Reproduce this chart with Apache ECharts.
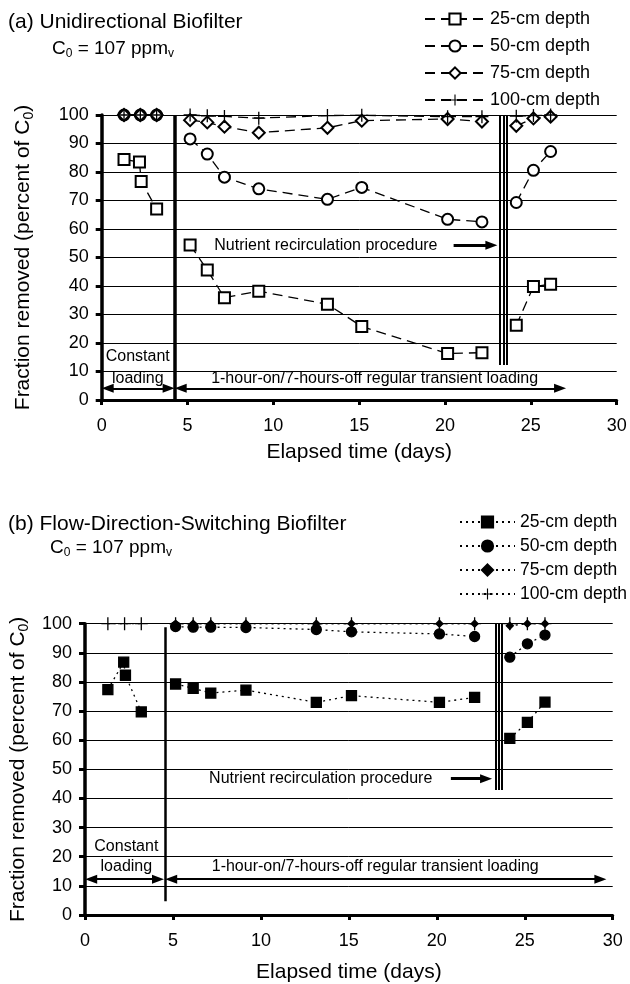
<!DOCTYPE html>
<html>
<head>
<meta charset="utf-8">
<script src="https://cdn.jsdelivr.net/npm/echarts@6/dist/echarts.min.js"></script>
<style>
  html, body { margin: 0; padding: 0; background: #fff; }
  #chart { width: 630px; height: 984px; }
</style>
</head>
<body>
<div id="chart"></div>
<script>
// sampling days (elapsed time)
const earlyDays = [1.3, 2.25, 3.2];
const early25Days = [1.3, 2.2, 2.3, 3.2];
const runDays = [5.15, 6.15, 7.15, 9.15, 13.15, 15.15, 20.15, 22.15];
const restartDays = [24.15, 25.15, 26.15];

const depthNames = ['25-cm depth', '50-cm depth', '75-cm depth', '100-cm depth'];
const yTicks = [0, 100, 10];   // min, max, step
const xTicks = [0, 30, 5];

// (a) unidirectional biofilter, fraction removed (%)
const uni25Early = [84.4, 83.5, 76.7, 67.0];
const uni25Run = [54.4, 45.6, 35.9, 38.2, 33.6, 25.8, 16.3, 16.6];
const uni25Restart = [26.2, 39.8, 40.6];
const uni50Early = [100, 100, 100];
const uni50Run = [91.6, 86.3, 78.2, 74.1, 70.4, 74.6, 63.4, 62.5];
const uni50Restart = [69.3, 80.6, 87.2];
const uni75Early = [100, 100, 100];
const uni75Run = [98.2, 97.4, 95.9, 93.8, 95.5, 98.0, 98.6, 97.7];
const uni75Restart = [96.2, 98.8, 99.4];
const uni100Early = [100, 100, 100];
const uni100Run = [100, 99.7, 99.5, 98.9, 99.8, 99.9, 99.4, 99.4];
const uni100Restart = [99.6, 99.8, 100];

// (b) flow-direction-switching biofilter, fraction removed (%)
const fds25Early = [77.4, 86.8, 82.3, 69.7];
const fds25Run = [79.3, 77.8, 76.2, 77.2, 73.0, 75.3, 73.0, 74.7];
const fds25Restart = [60.6, 66.1, 73.1];
const fds50Run = [99.0, 98.8, 98.8, 98.7, 98.0, 97.2, 96.5, 95.6];
const fds50Restart = [88.5, 93.1, 96.1];
const fds75Run = [100, 100, 100, 100, 100, 100, 100, 100];
const fds75Restart = [99.3, 100, 100];
const fds100Early = [100, 100, 100];
const fds100Run = [100, 100, 100, 100, 100, 100, 100, 100];
const fds100Restart = [100, 100, 100];

// annotation texts
const uniNotes = ['Nutrient recirculation procedure', 'Constant', 'loading',
  '1-hour-on/7-hours-off regular transient loading'];
const fdsNotes = uniNotes.slice();

const FONT = "'Liberation Sans', Arial, sans-serif";
const PLUS = 'path://M0,0.45 L1,0.45 L1,0.55 L0,0.55 Z M0.45,0 L0.55,0 L0.55,1 L0.45,1 Z';

// join segments, breaking the line between them
function track(parts) {
  const out = [];
  parts.forEach(function (p) {
    if (p[0].length === 0) return;
    if (out.length) out.push([p[0][0] - 0.5, '-']);
    p[0].forEach(function (d, i) { out.push([d, p[1][i]]); });
  });
  return out;
}

function depthSeries(idx, prefix, name, symbol, size, dash, data) {
  return {
    name: prefix + name,
    type: 'line',
    xAxisIndex: idx, yAxisIndex: idx,
    symbol: symbol, symbolSize: size,
    clip: false,
    connectNulls: false,
    lineStyle: { color: '#000', width: 1.3, type: dash },
    itemStyle: { color: '#000', borderColor: '#000', borderWidth: symbol === PLUS ? 0 : 1.3 },
    data: data
  };
}

function vbar(x, y0, y1, w) {
  return [{ coord: [x, y0], symbol: 'none', lineStyle: { width: w } }, { coord: [x, y1], symbol: 'none' }];
}
function arrow(x0, x1, y, w, both) {
  return [
    { coord: [x0, y], symbol: both ? 'triangle' : 'none', symbolSize: [9, 12], lineStyle: { width: w } },
    { coord: [x1, y], symbol: 'triangle', symbolSize: [9, 12] }
  ];
}

// separators and arrows
function guideSeries(idx, lines) {
  return {
    type: 'scatter', xAxisIndex: idx, yAxisIndex: idx,
    symbolSize: 0, silent: true, data: [],
    markLine: {
      silent: true, animation: false,
      label: { show: false },
      lineStyle: { color: '#000', type: 'solid', width: 2, opacity: 1 },
      itemStyle: { color: '#000' },
      data: lines
    }
  };
}

// text notes placed at data coordinates
function noteSeries(idx, texts, xs, ys) {
  return {
    type: 'custom', xAxisIndex: idx, yAxisIndex: idx, silent: true, z: 6,
    data: xs.map(function (x, i) { return [x, ys[i]]; }),
    renderItem: function (params, api) {
      const p = api.coord([api.value(0), api.value(1)]);
      return {
        type: 'text', x: p[0], y: p[1],
        style: {
          text: texts[params.dataIndex], fill: '#000', fontSize: 16, fontFamily: FONT,
          align: 'center', verticalAlign: 'middle'
        }
      };
    }
  };
}

function richSub(size) {
  return {
    n: { fontSize: size, fontWeight: 'normal', color: '#000', fontFamily: FONT, lineHeight: size + 4 },
    s: { fontSize: Math.round(size * 0.65), fontWeight: 'normal', color: '#000', fontFamily: FONT,
         lineHeight: Math.round(size * 0.75), verticalAlign: 'bottom' }
  };
}

function yAxis(idx, gap) {
  return {
    gridIndex: idx, type: 'value',
    min: yTicks[0], max: yTicks[1], interval: yTicks[2],
    name: '{n|Fraction removed (percent of C}{s|0}{n|)}',
    nameLocation: 'middle', nameGap: gap, nameRotate: 90,
    nameTextStyle: { rich: richSub(21) },
    axisLine: { show: true, lineStyle: { color: '#000', width: 3.5 } },
    axisTick: { show: true, length: 6, lineStyle: { color: '#000', width: 3 } },
    axisLabel: { color: '#000', fontSize: 18, fontFamily: FONT, margin: 13 },
    splitLine: { show: true, lineStyle: { color: '#000', width: 1 } }
  };
}
function xAxis(idx, gap) {
  return {
    gridIndex: idx, type: 'value',
    min: xTicks[0], max: xTicks[1], interval: xTicks[2],
    name: 'Elapsed time (days)',
    nameLocation: 'middle', nameGap: gap,
    nameTextStyle: { color: '#000', fontSize: 21, fontFamily: FONT },
    axisLine: { show: true, onZero: false, lineStyle: { color: '#000', width: 3 } },
    axisTick: { show: true, length: 5, lineStyle: { color: '#000', width: 3 } },
    axisLabel: { color: '#000', fontSize: 18, fontFamily: FONT, margin: 17 },
    splitLine: { show: false }
  };
}
function legend(prefix, left, top, gap, width, size) {
  return {
    data: depthNames.map(function (n) { return prefix + n; }),
    orient: 'vertical', left: left, top: top, padding: 0,
    itemWidth: width, itemHeight: 14, itemGap: gap,
    selectedMode: false,
    formatter: function (n) { return n.slice(prefix.length); },
    textStyle: { color: '#000', fontSize: size, fontFamily: FONT, lineHeight: 20 }
  };
}

const DASH = [10, 6];
const DOT = [2, 4];

const chart = echarts.init(document.getElementById('chart'));
chart.setOption({
  animation: false,
  backgroundColor: '#fff',
  title: [
    { text: '(a) Unidirectional Biofilter', left: 8, top: 12, padding: 0,
      textStyle: { color: '#000', fontSize: 21, fontWeight: 'normal', fontFamily: FONT } },
    { text: '{n|C}{s|0}{n| = 107 ppm}{s|v}', left: 52, top: 37, padding: 0, textStyle: { rich: richSub(19) } },
    { text: '(b) Flow-Direction-Switching Biofilter', left: 8, top: 514, padding: 0,
      textStyle: { color: '#000', fontSize: 21, fontWeight: 'normal', fontFamily: FONT } },
    { text: '{n|C}{s|0}{n| = 107 ppm}{s|v}', left: 50, top: 536, padding: 0, textStyle: { rich: richSub(19) } }
  ],
  legend: [
    legend('a:', 424, 9, 7, 60, 18),
    legend('b:', 459, 512, 4, 55, 17.5)
  ],
  grid: [
    { left: 101.7, top: 115, width: 515, height: 285 },
    { left: 85, top: 623.7, width: 527.7, height: 292.3 }
  ],
  xAxis: [xAxis(0, 42), xAxis(1, 47)],
  yAxis: [yAxis(0, 66), yAxis(1, 50)],
  series: [
    depthSeries(0, 'a:', depthNames[0], 'emptyRect', 11, DASH,
      track([[early25Days, uni25Early], [runDays, uni25Run], [restartDays, uni25Restart]])),
    depthSeries(0, 'a:', depthNames[1], 'emptyCircle', 11, DASH,
      track([[earlyDays, uni50Early], [runDays, uni50Run], [restartDays, uni50Restart]])),
    depthSeries(0, 'a:', depthNames[2], 'emptyDiamond', 12, DASH,
      track([[earlyDays, uni75Early], [runDays, uni75Run], [restartDays, uni75Restart]])),
    depthSeries(0, 'a:', depthNames[3], PLUS, 13, DASH,
      track([[earlyDays, uni100Early], [runDays, uni100Run], [restartDays, uni100Restart]])),

    depthSeries(1, 'b:', depthNames[0], 'rect', 10, DOT,
      track([[early25Days, fds25Early], [runDays, fds25Run], [restartDays, fds25Restart]])),
    depthSeries(1, 'b:', depthNames[1], 'circle', 10, DOT,
      track([[runDays, fds50Run], [restartDays, fds50Restart]])),
    depthSeries(1, 'b:', depthNames[2], 'diamond', 7, DOT,
      track([[runDays, fds75Run], [restartDays, fds75Restart]])),
    depthSeries(1, 'b:', depthNames[3], PLUS, 13, DOT,
      track([[earlyDays, fds100Early], [runDays, fds100Run], [restartDays, fds100Restart]])),

    guideSeries(0, [
      vbar(4.25, 0, 100, 3.5),
      vbar(23.2, 12.3, 100, 2), vbar(23.4, 12.3, 100, 2), vbar(23.6, 12.3, 100, 2),
      arrow(20.5, 22.7, 54.3, 3, false),
      arrow(0.35, 3.9, 4.1, 2, true),
      arrow(4.6, 26.7, 4.1, 2, true)
    ]),
    noteSeries(0, uniNotes, [13.06, 2.1, 2.1, 15.9], [54.3, 15.4, 7.4, 7.4]),

    guideSeries(1, [
      vbar(4.55, 4.7, 98.8, 2.5),
      vbar(23.35, 42.9, 100, 2), vbar(23.53, 42.9, 100, 2), vbar(23.71, 42.9, 100, 2),
      arrow(20.8, 22.8, 46.8, 3, false),
      arrow(0.35, 4.15, 12.3, 2, true),
      arrow(4.9, 29.3, 12.3, 2, true)
    ]),
    noteSeries(1, fdsNotes, [13.4, 2.35, 2.35, 16.5], [46.8, 23.4, 16.6, 16.6])
  ]
});
</script>
</body>
</html>
